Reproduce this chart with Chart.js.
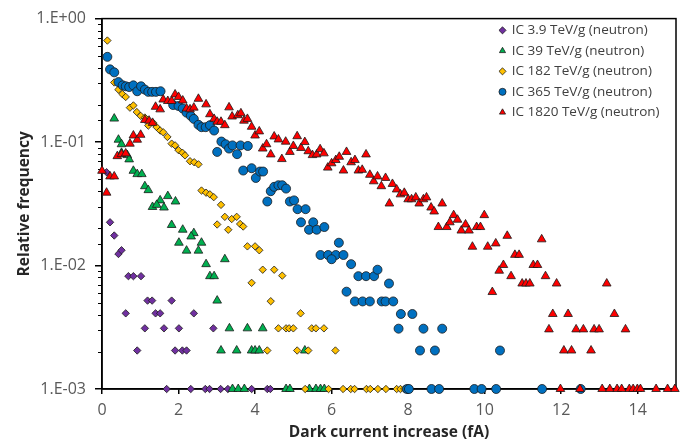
<!DOCTYPE html>
<html>
<head>
<meta charset="utf-8">
<script src="https://cdn.jsdelivr.net/npm/chart.js@4.4.1/dist/chart.umd.min.js"></script>
<style>
  body { margin: 0; background: #fff; }
</style>
</head>
<body>
<canvas id="chart" width="696" height="447"></canvas>
<script>
// series labels
const seriesNames = [
  'IC 3.9 TeV/g (neutron)',
  'IC 39 TeV/g (neutron)',
  'IC 182 TeV/g (neutron)',
  'IC 365 TeV/g (neutron)',
  'IC 1820 TeV/g (neutron)'
];

// IC 3.9 TeV/g
const ic3X = [0.12, 0.21, 0.32, 0.43, 0.51, 0.69, 0.82, 1.02, 1.19, 1.31, 1.82, 0.62, 1.40, 1.52, 2.40,
  1.12, 1.62, 2.01, 2.91, 0.92, 1.91, 2.10, 2.21,
  1.69, 2.32, 2.70, 2.81, 3.10, 3.29, 3.91, 4.32, 4.40];
const ic3Y = [0.057, 0.0224, 0.0175, 0.0124, 0.0133, 0.0082, 0.0082, 0.0082, 0.0052, 0.0052, 0.0052, 0.0041, 0.0041, 0.0041, 0.0041,
  0.0031, 0.0031, 0.0031, 0.0031, 0.00205, 0.00205, 0.00205, 0.00205,
  0.001, 0.001, 0.001, 0.001, 0.001, 0.001, 0.001, 0.001, 0.001];

// IC 39 TeV/g
const ic39X = [0.32, 0.43, 0.51, 0.51, 0.66, 0.71, 0.82, 0.92, 1.04, 1.12, 1.21, 1.52, 1.72, 1.32, 1.43, 1.62, 1.92,
  1.82, 2.11, 2.40, 2.33, 2.01, 2.60, 2.21, 2.52, 2.72, 3.21, 2.82, 2.93, 3.01, 3.33, 3.80, 4.20,
  3.11, 3.52, 3.91, 4.00, 4.11, 5.30,
  3.41, 3.56, 3.72, 4.81, 4.91, 5.42, 5.59, 5.71, 5.81];
const ic39Y = [0.155, 0.1045, 0.096, 0.0818, 0.0784, 0.0724, 0.0585, 0.055, 0.055, 0.0439, 0.0408, 0.0337, 0.0365, 0.0298, 0.031, 0.0295, 0.033,
  0.0213, 0.0195, 0.0183, 0.0172, 0.0153, 0.0153, 0.0132, 0.0132, 0.01026, 0.01125, 0.0082, 0.0082, 0.0052, 0.0031, 0.0031, 0.0031,
  0.00205, 0.00205, 0.00205, 0.00205, 0.00205, 0.00205,
  0.001, 0.001, 0.001, 0.001, 0.001, 0.001, 0.001, 0.001, 0.001];

// IC 182 TeV/g
const ic182X = [0.14, 0.32, 0.43, 0.53, 0.62, 0.73, 0.82, 0.91, 1.01, 1.12, 1.21, 1.34, 1.43, 1.52, 1.60, 1.71, 1.82, 1.91,
  2.00, 2.10, 2.17, 2.30, 2.41, 2.52, 2.60, 2.72, 2.82, 2.92, 3.11, 3.21, 3.39, 3.52, 3.01, 3.30, 3.61, 3.69,
  3.80, 4.00, 4.11, 4.20, 4.50, 4.71, 3.91, 4.41, 5.19, 4.61, 4.81, 4.89, 5.00, 5.48, 5.59, 5.80,
  4.32, 5.10, 5.39, 6.10,
  5.31, 5.92, 6.30, 6.50, 6.60, 6.91, 7.01, 7.21, 7.42, 7.70, 7.80, 7.90];
const ic182Y = [0.664, 0.304, 0.266, 0.245, 0.232, 0.190, 0.198, 0.175, 0.163, 0.158, 0.136, 0.143, 0.132, 0.124, 0.120, 0.110, 0.0971, 0.094,
  0.086, 0.082, 0.078, 0.070, 0.0686, 0.066, 0.0405, 0.0389, 0.0377, 0.0358, 0.031, 0.0248, 0.0238, 0.0248, 0.0215, 0.0195, 0.0217, 0.0207,
  0.0143, 0.0143, 0.0133, 0.00925, 0.00925, 0.00828, 0.00724, 0.00514, 0.0041, 0.0031, 0.0031, 0.0031, 0.0031, 0.0031, 0.0031, 0.0031,
  0.00205, 0.00205, 0.00205, 0.00205,
  0.001, 0.001, 0.001, 0.001, 0.001, 0.001, 0.001, 0.001, 0.001, 0.001, 0.001, 0.001];

// IC 365 TeV/g
const ic365X = [0.14, 0.21, 0.32, 0.43, 0.54, 0.62, 0.71, 0.82, 0.92, 1.02, 1.12, 1.21, 1.31, 1.41, 1.53,
  1.86, 2.00, 2.11, 2.21, 2.32, 2.40, 2.52, 2.60, 2.71, 2.82, 2.93,
  3.01, 3.12, 3.23, 3.32, 3.41, 3.53, 3.62, 3.69, 3.81, 3.91, 4.02, 4.13, 4.21,
  4.41, 4.50, 4.61, 4.71, 4.81, 4.32, 4.91, 5.02, 5.11, 5.32, 5.20, 5.52, 5.41, 5.61, 5.81,
  6.19, 5.71, 5.91, 6.11, 6.31, 6.00, 6.51, 6.70, 6.90, 7.11, 7.20, 7.50, 6.39,
  6.61, 6.81, 7.00, 7.31, 7.41, 7.61, 7.81, 8.11, 7.75, 8.40, 8.89, 8.31, 8.70, 10.40,
  7.97, 8.02, 8.61, 8.81, 9.73, 9.92, 10.30, 11.50, 12.51];
const ic365Y = [0.49, 0.388, 0.367, 0.306, 0.288, 0.283, 0.279, 0.288, 0.258, 0.283, 0.266, 0.255, 0.255, 0.255, 0.258,
  0.1995, 0.196, 0.187, 0.173, 0.163, 0.154, 0.138, 0.132, 0.132, 0.137, 0.124,
  0.0832, 0.101, 0.096, 0.0886, 0.094, 0.0798, 0.094, 0.0588, 0.093, 0.0614, 0.0512, 0.0577, 0.0577,
  0.040, 0.0434, 0.0447, 0.0447, 0.042, 0.033, 0.033, 0.0337, 0.0286, 0.0286, 0.0224, 0.0224, 0.0195, 0.0195, 0.0205,
  0.0153, 0.01217, 0.01217, 0.01217, 0.01217, 0.01125, 0.01026, 0.0082, 0.0082, 0.0082, 0.00925, 0.00715, 0.00614,
  0.00512, 0.00512, 0.00512, 0.00512, 0.00512, 0.00512, 0.00405, 0.00405, 0.00308, 0.00308, 0.00308, 0.00205, 0.00205, 0.00205,
  0.001, 0.001, 0.001, 0.001, 0.001, 0.001, 0.001, 0.001, 0.001];

// IC 1820 TeV/g
const ic1820X = [0.00, 0.21, 0.32, 0.12, 0.40, 0.51, 0.62, 0.73, 0.82, 0.92, 1.01, 1.12, 1.23, 1.32, 1.40, 1.52, 1.60, 1.72, 1.82,
  1.91, 2.00, 2.11, 2.21, 2.30, 2.40, 2.52, 2.72, 2.82, 2.93, 3.01, 3.11, 3.21, 3.32, 3.40, 3.55, 3.63, 3.71, 3.80,
  3.91, 4.00, 4.11, 4.20, 4.30, 4.41, 4.50, 4.61, 4.80, 4.70, 4.91, 5.00, 5.10, 5.20, 5.30, 5.39, 5.50, 5.61, 5.70, 5.80,
  5.90, 6.00, 6.11, 6.20, 6.39, 6.31, 6.51, 6.61, 6.70, 6.80, 6.90, 7.00, 7.10, 7.20, 7.30, 7.41, 7.51, 7.59, 7.70, 7.80, 7.90,
  8.00, 8.09, 8.20, 8.29, 8.40, 8.48, 8.60, 8.68, 8.89, 8.79, 9.01, 9.09, 9.19, 9.29, 9.39, 9.50, 9.59, 9.79, 9.89, 9.99,
  9.68, 10.08, 10.29, 10.59, 11.49, 10.79, 10.90, 10.49, 10.38, 11.27, 11.38, 10.69, 10.98, 11.08, 11.18, 11.59, 11.88, 13.19,
  10.20, 11.78, 12.18, 13.39, 11.68, 12.39, 12.58, 12.86, 12.99, 13.68, 12.07, 12.27, 12.78,
  11.98, 12.49, 13.07, 13.27, 13.46, 13.58, 13.78, 13.88, 13.99, 14.07, 14.48, 14.78, 14.97];
const ic1820Y = [0.0585, 0.0527, 0.0527, 0.0389, 0.0769, 0.0798, 0.0809, 0.097, 0.113, 0.1045, 0.1145, 0.151, 0.149, 0.143, 0.193, 0.184, 0.221, 0.215, 0.215,
  0.243, 0.232, 0.217, 0.187, 0.184, 0.190, 0.224, 0.202, 0.168, 0.154, 0.146, 0.146, 0.137, 0.191, 0.161, 0.165, 0.171, 0.149, 0.154,
  0.133, 0.113, 0.122, 0.0886, 0.096, 0.0794, 0.111, 0.105, 0.1007, 0.0728, 0.0832, 0.093, 0.1115, 0.0896, 0.100, 0.0843, 0.0784, 0.0794, 0.0875, 0.081,
  0.0621, 0.0673, 0.0715, 0.076, 0.0832, 0.0588, 0.0686, 0.0715, 0.0588, 0.0596, 0.0794, 0.0543, 0.0481, 0.0527, 0.0439, 0.0512, 0.0318, 0.0458, 0.0413, 0.0377, 0.0388,
  0.0344, 0.0344, 0.0356, 0.0318, 0.0344, 0.0356, 0.0295, 0.0274, 0.0318, 0.0205, 0.0205, 0.0224, 0.0256, 0.0235, 0.0192, 0.0215, 0.0192, 0.0205, 0.0205, 0.0256,
  0.0142, 0.0142, 0.0151, 0.0174, 0.0163, 0.0122, 0.0122, 0.0101, 0.00908, 0.0101, 0.0101, 0.0082, 0.00715, 0.00715, 0.00715, 0.0082, 0.00715, 0.00715,
  0.0061, 0.00405, 0.00405, 0.00405, 0.00304, 0.00304, 0.00304, 0.00304, 0.00304, 0.00304, 0.00205, 0.00205, 0.00205,
  0.001, 0.001, 0.001, 0.001, 0.001, 0.001, 0.001, 0.001, 0.001, 0.001, 0.001, 0.001, 0.001];

const xTicks = [0, 2, 4, 6, 8, 10, 12, 14];

const seriesX = [ic3X, ic39X, ic182X, ic365X, ic1820X];
const seriesY = [ic3Y, ic39Y, ic182Y, ic365Y, ic1820Y];
const colors = ['#7030A0', '#00B050', '#FFC000', '#0070C0', '#FF0000'];
const shapes = ['rectRot', 'triangle', 'rectRot', 'circle', 'triangle'];
const sizes = [3.7, 5, 3.7, 4.5, 5];

function isDecade(v) {
  const e = Math.log10(v);
  return Math.abs(e - Math.round(e)) < 1e-6;
}

function fmtExp(v) {
  const e = Math.round(Math.log10(v));
  return '1.E' + (e < 0 ? '-' : '+') + String(Math.abs(e)).padStart(2, '0');
}

// legend inside the plot, frame + short minor ticks on the log axis
const frame = {
  id: 'frame',
  afterLayout(chart) {
    const lg = chart.legend;
    const a = chart.chartArea;
    lg.left = a.right - 183;
    lg.right = lg.left + lg.width;
    lg.top = a.top - 2;
    lg.bottom = lg.top + 130;
  },
  beforeDatasetsDraw(chart) {
    const {ctx, chartArea: a, scales} = chart;
    ctx.save();
    ctx.strokeStyle = '#000';
    ctx.lineWidth = 1.5;
    ctx.strokeRect(a.left, a.top, a.right - a.left, a.bottom - a.top);
    ctx.lineWidth = 1;
    const y = scales.y;
    y.ticks.forEach(t => {
      if (isDecade(t.value)) return;
      const py = Math.round(y.getPixelForValue(t.value)) + 0.5;
      ctx.beginPath();
      ctx.moveTo(a.left - 4, py);
      ctx.lineTo(a.left, py);
      ctx.stroke();
    });
    ctx.restore();
  }
};

const datasets = seriesNames.map((name, i) => ({
  label: name,
  data: seriesX[i].map((x, j) => ({x: x, y: seriesY[i][j]})),
  pointStyle: shapes[i],
  pointRadius: sizes[i],
  backgroundColor: colors[i],
  borderColor: '#1a1a1a',
  borderWidth: 0.8,
  clip: false,
  order: 4 - i
}));

new Chart(document.getElementById('chart'), {
  type: 'scatter',
  data: { datasets: datasets },
  options: {
    responsive: false,
    animation: false,
    devicePixelRatio: 1,
    layout: { padding: { top: 11, right: 20, left: 0, bottom: 0 } },
    plugins: {
      tooltip: { enabled: false },
      legend: {
        position: 'chartArea',
        fullSize: false,
        align: 'start',
        labels: {
          usePointStyle: true,
          boxWidth: 5,
          boxHeight: 5,
          padding: 7,
          color: '#404040',
          font: { family: 'Open Sans', size: 13.5 },
          sort: (a, b) => a.datasetIndex - b.datasetIndex
        }
      }
    },
    scales: {
      x: {
        type: 'linear',
        min: 0,
        max: 15,
        afterBuildTicks: s => { s.ticks = xTicks.map(v => ({value: v})); },
        ticks: {
          color: '#595959',
          font: { family: 'Open Sans', size: 16 },
          padding: 7,
          maxRotation: 0
        },
        grid: { display: true, drawOnChartArea: false, tickLength: 5, color: '#000', tickColor: '#000', lineWidth: 1.5 },
        border: { color: '#000', width: 1.5 },
        title: {
          display: true,
          text: 'Dark current increase (fA)',
          color: '#262626',
          font: { family: 'Open Sans', size: 15.5, weight: 'bold' },
          padding: { top: 0, bottom: 5 }
        },
        afterFit: s => { s.height = 58; }
      },
      y: {
        type: 'logarithmic',
        min: 0.001,
        max: 1,
        ticks: {
          autoSkip: false,
          color: '#595959',
          font: { family: 'Open Sans', size: 16 },
          padding: 9,
          callback: v => isDecade(v) ? fmtExp(v) : ''
        },
        grid: {
          display: true,
          drawOnChartArea: false,
          tickLength: 7,
          lineWidth: 1.5,
          color: '#000',
          tickColor: c => (c.tick && isDecade(c.tick.value)) ? '#000' : 'rgba(0,0,0,0)'
        },
        border: { color: '#000', width: 1.5 },
        title: {
          display: true,
          text: 'Relative frequency',
          color: '#262626',
          font: { family: 'Open Sans', size: 15.5, weight: 'bold' },
          padding: { top: 15, bottom: 0 }
        },
        afterFit: s => { s.width = 102; }
      }
    }
  },
  plugins: [frame]
});
</script>
</body>
</html>
